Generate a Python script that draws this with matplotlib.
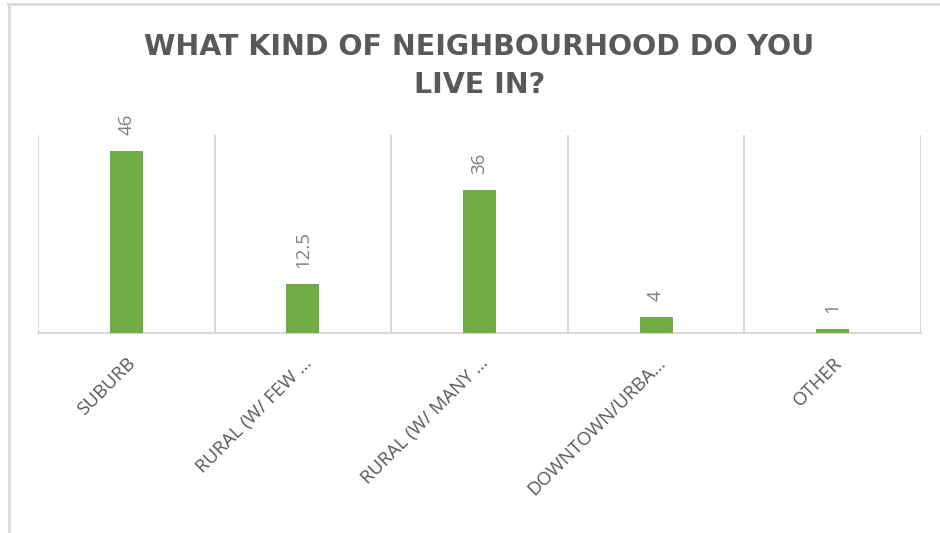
import matplotlib.pyplot as plt
from matplotlib.lines import Line2D

# survey answers
categories = ['SUBURB', 'RURAL (W/ FEW …', 'RURAL (W/ MANY …', 'DOWNTOWN/URBA…', 'OTHER']
counts = [46, 12.5, 36, 4, 1]
value_labels = ['46', '12.5', '36', '4', '1']

green = '#70ad47'
grid_grey = '#d9d9d9'
text_grey = '#595959'
label_grey = '#808080'

fig = plt.figure(figsize=(9.4, 5.33), dpi=100)
ax = fig.add_axes([38 / 940, 1 - 333 / 533, (921 - 38) / 940, (333 - 135) / 533])

x = list(range(len(categories)))
ax.bar(x, counts, width=0.187, color=green, zorder=3)

for xi, v, lab in zip(x, counts, value_labels):
    ax.annotate(lab, (xi, v), xytext=(0, 11.5), textcoords='offset points',
                rotation=90, ha='center', va='bottom',
                fontsize=13.5, color=label_grey, family='Open Sans')

# vertical separators between categories
for b in [i - 0.5 for i in range(len(categories) + 1)]:
    ax.axvline(b, color=grid_grey, lw=1.5, zorder=1)

ax.set_xlim(-0.5, len(categories) - 0.5)
ax.set_ylim(0, 50)
ax.set_yticks([])
for s in ['top', 'left', 'right']:
    ax.spines[s].set_visible(False)
ax.spines['bottom'].set_color(grid_grey)
ax.spines['bottom'].set_linewidth(1.5)
ax.tick_params(axis='x', length=0, pad=15)
ax.set_xticks(x)
ax.set_xticklabels(categories, rotation=45, ha='right', va='top',
                   rotation_mode='anchor', fontsize=13.5, color=text_grey,
                   family='Open Sans')

fig.text(0.51, 1 - 33 / 533, 'WHAT KIND OF NEIGHBOURHOOD DO YOU\nLIVE IN?',
         ha='center', va='top', fontsize=20.5, fontweight='bold',
         color=text_grey, linespacing=1.45, family='DejaVu Sans')

# chart frame (top and left edges)
fig.add_artist(Line2D([8 / 940, 1], [1 - 4 / 533, 1 - 4 / 533], color=grid_grey, lw=2,
                      transform=fig.transFigure))
fig.add_artist(Line2D([8.5 / 940, 8.5 / 940], [0, 1 - 4 / 533], color=grid_grey, lw=2,
                      transform=fig.transFigure))

fig.savefig('out.png', dpi=100, facecolor='white')
